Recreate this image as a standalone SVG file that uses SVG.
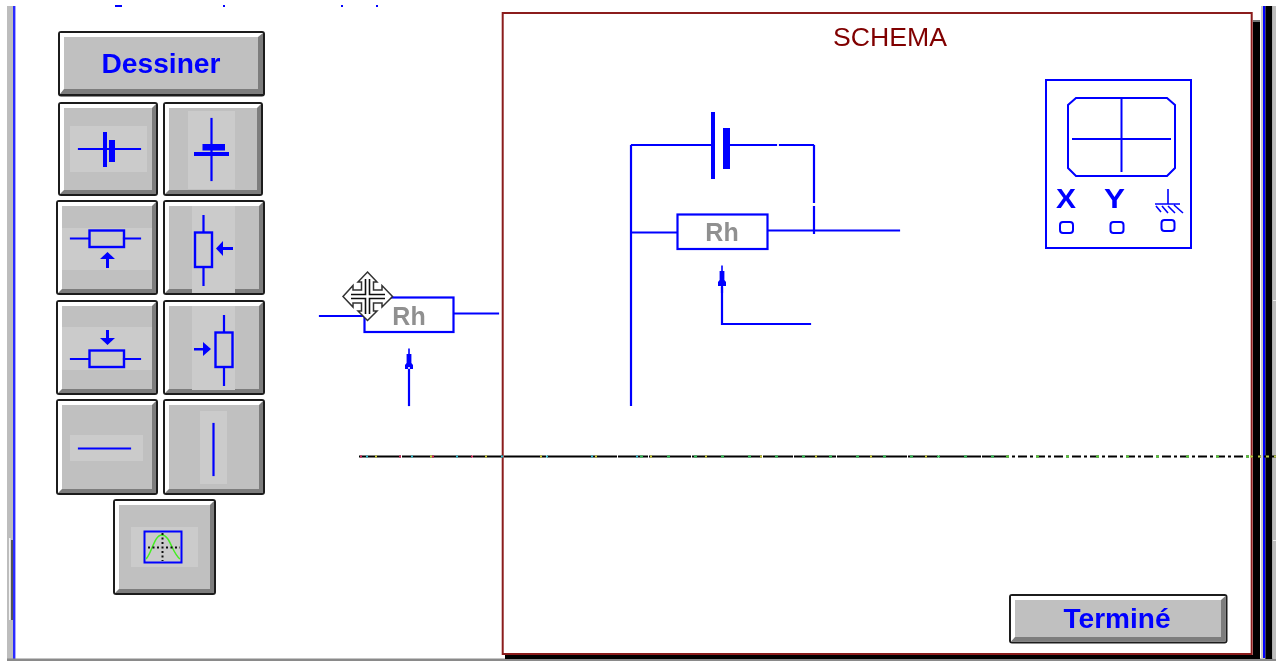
<svg xmlns="http://www.w3.org/2000/svg" width="1276" height="661" viewBox="0 0 1276 661">
<defs>
<filter id="soft" filterUnits="userSpaceOnUse" x="0" y="0" width="1276" height="661"><feGaussianBlur stdDeviation="0.45"/></filter>
<style>
.w{fill:none;stroke:#0000ff;stroke-width:2.200;stroke-linecap:square}
.t{fill:none;stroke:#0000ff;stroke-width:2.400}
.f{fill:#0000ff;stroke:none}
.o{fill:#1c1c1c}
.h{fill:#ffffff}
.d{fill:#7d7d7d}
.c{fill:#c0c0c0}
.b{fill:#cbcbcb}
.lb{font-family:"Liberation Sans",Arial,sans-serif;font-weight:700;fill:#0000ff;text-anchor:middle}
.rh{font-family:"Liberation Sans",Arial,sans-serif;font-weight:700;fill:#909090;font-size:25px;text-anchor:middle}
</style>
<g id="arrowUp"><path class="f" d="M0 0L1 1V6H3V15L5 17V21H1V19H-1V21H-5V17L-3 15V6H-1V1Z" transform="scale(.8 1)"/></g>
</defs>
<rect width="1276" height="661" fill="#ffffff"/>
<g id="picture" filter="url(#soft)">

<g id="window-frame">
<rect x="7" y="6" width="6" height="655" fill="#bdbdbd"/>
<rect x="13" y="6" width="2.400" height="653" fill="#2a2aff"/>
<rect x="9" y="538" width="1.500" height="82" fill="#f4f4f4"/>
<rect x="11" y="540" width="2" height="80" fill="#555555"/>
<rect x="7" y="658.500" width="1269" height="2.500" fill="#8a8a8a"/>
<rect x="1261" y="6" width="2" height="652" fill="#c8c8c8"/>
<rect x="1263" y="6" width="2.400" height="652" fill="#0000ff"/>
<rect x="1265.400" y="6" width="7" height="653" fill="#000000"/>
<rect x="1272.400" y="6" width="3.600" height="653" fill="#bdbdbd"/>
<rect x="1273" y="300" width="3" height="1" fill="#eeeeee"/>
<rect x="1273" y="540" width="3" height="1" fill="#eeeeee"/>
<rect x="115" y="5" width="7" height="2" fill="#0000ff"/>
<rect x="223" y="5" width="2" height="2" fill="#0000ff"/>
<rect x="341" y="5" width="2" height="2" fill="#0000ff"/>
<rect x="376" y="5" width="2" height="2" fill="#0000ff"/>
</g>

<g id="schema-panel">
<rect x="1253" y="20" width="7" height="639" fill="#000000"/>
<rect x="1253" y="20" width="7" height="2" fill="#777777"/>
<rect x="505" y="655" width="755" height="4" fill="#000000"/>
<rect x="502.700" y="13" width="749" height="641" fill="#ffffff" stroke="#8b1a1a" stroke-width="2"/>
<text id="schema-title" x="890" y="46" font-family="'Liberation Sans',Arial,sans-serif" font-size="26" fill="#800000" text-anchor="middle" textLength="114" lengthAdjust="spacingAndGlyphs">SCHEMA</text>
</g>

<g id="btn-dessiner">
<rect class="o" x="58" y="31" width="207" height="65.500" rx="3"/>
<rect class="h" x="60" y="33" width="203" height="61"/>
<path class="d" d="M263 33V94H60L64 89H258V37Z"/>
<rect class="c" x="64" y="37" width="194" height="52"/>
<text class="lb" x="161" y="73" font-size="27" textLength="119" lengthAdjust="spacingAndGlyphs">Dessiner</text>
</g>

<g id="btn-battery-h">
<rect class="o" x="58" y="102" width="100" height="94" rx="3"/>
<rect class="h" x="60" y="104" width="96" height="90"/>
<path class="d" d="M156 104V194H60L64 190H152V108Z"/>
<rect class="c" x="64" y="108" width="88" height="82"/>
<rect class="b" x="70" y="126" width="77" height="46"/>
<path class="w" d="M79 149H140"/>
<rect class="f" x="103" y="132" width="4" height="35"/>
<rect class="f" x="109" y="140" width="6" height="22"/>
</g>

<g id="btn-battery-v">
<rect class="o" x="163" y="102" width="100" height="94" rx="3"/>
<rect class="h" x="165" y="104" width="96" height="90"/>
<path class="d" d="M261 104V194H165L169 190H257V108Z"/>
<rect class="c" x="169" y="108" width="88" height="82"/>
<rect class="b" x="188" y="111" width="47" height="78"/>
<path class="w" d="M211.500 119V180"/>
<rect class="f" x="202.500" y="144" width="22.500" height="6.500"/>
<rect class="f" x="194" y="152" width="35" height="4"/>
</g>

<g id="btn-rheostat-up">
<rect class="o" x="56" y="200" width="102" height="95" rx="3"/>
<rect class="h" x="58" y="202" width="98" height="91"/>
<path class="d" d="M156 202V293H58L62 289H152V206Z"/>
<rect class="c" x="62" y="206" width="90" height="83"/>
<rect class="b" x="62" y="228" width="90" height="42"/>
<path class="w" d="M71 238.500H89M124 238.500H140"/>
<rect class="t" x="89.500" y="230.500" width="34.500" height="16.500"/>
<path class="f" d="M107.500 252L115 259H109V268H106V259H100Z"/>
</g>

<g id="btn-rheostat-left">
<rect class="o" x="163" y="200" width="102" height="95" rx="3"/>
<rect class="h" x="165" y="202" width="98" height="91"/>
<path class="d" d="M263 202V293H165L169 289H259V206Z"/>
<rect class="c" x="169" y="206" width="90" height="83"/>
<rect class="b" x="192" y="206" width="43" height="87"/>
<path class="w" d="M203.500 216V232M203.500 267V285"/>
<rect class="t" x="195" y="232.500" width="17" height="34.500"/>
<path class="f" d="M216 248.500L223 241V247H233V250H223V256Z"/>
</g>

<g id="btn-rheostat-down">
<rect class="o" x="56" y="300" width="102" height="95" rx="3"/>
<rect class="h" x="58" y="302" width="98" height="91"/>
<path class="d" d="M156 302V393H58L62 389H152V306Z"/>
<rect class="c" x="62" y="306" width="90" height="83"/>
<rect class="b" x="62" y="327" width="90" height="43"/>
<path class="w" d="M71 359H89M124 359H140"/>
<rect class="t" x="89.500" y="350.500" width="34.500" height="16.500"/>
<path class="f" d="M107.500 345L115 338H109V330H106V338H100Z"/>
</g>

<g id="btn-rheostat-right">
<rect class="o" x="163" y="300" width="102" height="95" rx="3"/>
<rect class="h" x="165" y="302" width="98" height="91"/>
<path class="d" d="M263 302V393H165L169 389H259V306Z"/>
<rect class="c" x="169" y="306" width="90" height="83"/>
<rect class="b" x="192" y="306" width="43" height="84"/>
<path class="w" d="M224 316V332M224 367V385"/>
<rect class="t" x="215.500" y="332.500" width="17" height="34.500"/>
<path class="f" d="M211 349L203 342V348H194V350.500H203V356Z"/>
</g>

<g id="btn-wire-h">
<rect class="o" x="56" y="399" width="102" height="96" rx="3"/>
<rect class="h" x="58" y="401" width="98" height="92"/>
<path class="d" d="M156 401V493H58L62 489H152V405Z"/>
<rect class="c" x="62" y="405" width="90" height="84"/>
<rect class="b" x="70" y="435" width="73" height="26"/>
<path class="w" d="M79 448.500H130"/>
</g>

<g id="btn-wire-v">
<rect class="o" x="163" y="399" width="102" height="96" rx="3"/>
<rect class="h" x="165" y="401" width="98" height="92"/>
<path class="d" d="M263 401V493H165L169 489H259V405Z"/>
<rect class="c" x="169" y="405" width="90" height="84"/>
<rect class="b" x="200" y="411" width="27" height="73"/>
<path class="w" d="M213.500 424V475"/>
</g>

<g id="btn-oscilloscope">
<rect class="o" x="113" y="499" width="103" height="96" rx="3"/>
<rect class="h" x="115" y="501" width="99" height="92"/>
<path class="d" d="M214 501V593H115L119 589H210V505Z"/>
<rect class="c" x="119" y="505" width="91" height="84"/>
<rect class="b" x="131" y="527" width="67" height="40"/>
<rect x="144.500" y="531.500" width="37" height="31" fill="none" stroke="#0000ff" stroke-width="2"/>
<path d="M146 559C152 553 154 535 162 535C170 535 172 553 180 559" fill="none" stroke="#44ee22" stroke-width="1.500"/>
<path d="M148 547.500H180M162.500 533V561" fill="none" stroke="#111111" stroke-width="2" stroke-dasharray="2 2.500"/>
</g>

<g id="floating-rheostat">
<rect x="364.500" y="297.500" width="89" height="34.500" fill="#ffffff" stroke="#0000ff" stroke-width="2.200"/>
<path class="w" d="M320 316H364M455 313.500H498"/>
<text class="rh" x="409" y="325">Rh</text>
<path class="w" d="M409 370V405"/>
<use href="#arrowUp" x="409" y="348"/>
</g>

<g id="connectors">
<path class="w" d="M631 146V405M632 145H711M730 145H776M780 145H813M814 146V202M814 207V233M632 232.500H677M768 230.500H899M722 288V324H810"/>
<rect class="f" x="711" y="112" width="4" height="67"/>
<rect class="f" x="723" y="128" width="7" height="41"/>
<path class="w" d="M722 280V292"/>
<use href="#arrowUp" x="722" y="265"/>
</g>

<g id="schema-rheostat">
<rect x="677.500" y="214.500" width="90" height="34.500" fill="#ffffff" stroke="#0000ff" stroke-width="2.200"/>
<text class="rh" x="722" y="241">Rh</text>
</g>

<g id="oscilloscope">
<rect x="1046" y="80" width="145" height="168" fill="none" stroke="#0000ff" stroke-width="2"/>
<path d="M1076 98H1167L1175 105V168L1167 176H1076L1068 168V105Z" fill="none" stroke="#0000ff" stroke-width="2"/>
<path d="M1121.500 98V172M1072 139H1171" fill="none" stroke="#0000ff" stroke-width="2"/>
<text x="1066" y="208" class="lb" font-size="27" textLength="20" lengthAdjust="spacingAndGlyphs">X</text>
<text x="1114.500" y="208" class="lb" font-size="27" textLength="21" lengthAdjust="spacingAndGlyphs">Y</text>
<path d="M1168 189V204M1155 204H1180M1156 206L1161 212M1162 206L1168 213M1168 206L1175 213M1174 205L1183 213" fill="none" stroke="#0000ff" stroke-width="1.600"/>
<rect x="1060" y="222" width="13" height="11" rx="3" fill="none" stroke="#0000ff" stroke-width="2"/>
<rect x="1110.500" y="222" width="13" height="11" rx="3" fill="none" stroke="#0000ff" stroke-width="2"/>
<rect x="1161.500" y="220" width="13" height="11" rx="3" fill="none" stroke="#0000ff" stroke-width="2"/>
</g>

<g id="btn-termine">
<rect class="o" x="1009" y="594" width="218.500" height="49.500" rx="3"/>
<rect class="h" x="1011" y="596" width="214.500" height="45.500"/>
<path class="d" d="M1225.500 596V641.500H1011L1015 637H1221V600Z"/>
<rect class="c" x="1015" y="600" width="206" height="37"/>
<text class="lb" x="1117" y="628" font-size="27" textLength="107" lengthAdjust="spacingAndGlyphs">Terminé</text>
</g>

<g id="scan-line">
<path d="M359 456.500H1000" fill="none" stroke="#000000" stroke-width="2" stroke-dasharray="42 1 70 1 30 1"/>
<path d="M360 456.500H500" fill="none" stroke="#cc2255" stroke-width="2" stroke-dasharray="2 37 2 31"/>
<path d="M366 456.500H640" fill="none" stroke="#33bbcc" stroke-width="2" stroke-dasharray="2 43"/>
<path d="M375 456.500H980" fill="none" stroke="#cccc33" stroke-width="2" stroke-dasharray="2 53"/>
<path d="M640 456.500H1000" fill="none" stroke="#33bb55" stroke-width="2" stroke-dasharray="3 24"/>
<path d="M1000 456.500H1276" fill="none" stroke="#000000" stroke-width="2" stroke-dasharray="9 3 3 3"/>
<path d="M1006 456.500H1250" fill="none" stroke="#55cc33" stroke-width="2" stroke-dasharray="3 27"/>
<path d="M1250 456.500H1276" fill="none" stroke="#bbcc44" stroke-width="2" stroke-dasharray="3 5"/>
</g>

<g id="move-cursor">
<path d="M367.500 272L377 282H373.500V290H382V285.500L392.500 296.500L382 307V303H373.500V311H377L367.500 320.500L358 311H361.500V303H353V307L343 296.500L353 285.500V290H361.500V282H358Z" fill="#ffffff" stroke="#333333" stroke-width="1.500"/>
<path d="M365.500 279V294.500H351M369.500 279V294.500H385M365.500 314V298.500H351M369.500 314V298.500H385" fill="none" stroke="#111111" stroke-width="1.600"/>
</g>
</g>
</svg>
